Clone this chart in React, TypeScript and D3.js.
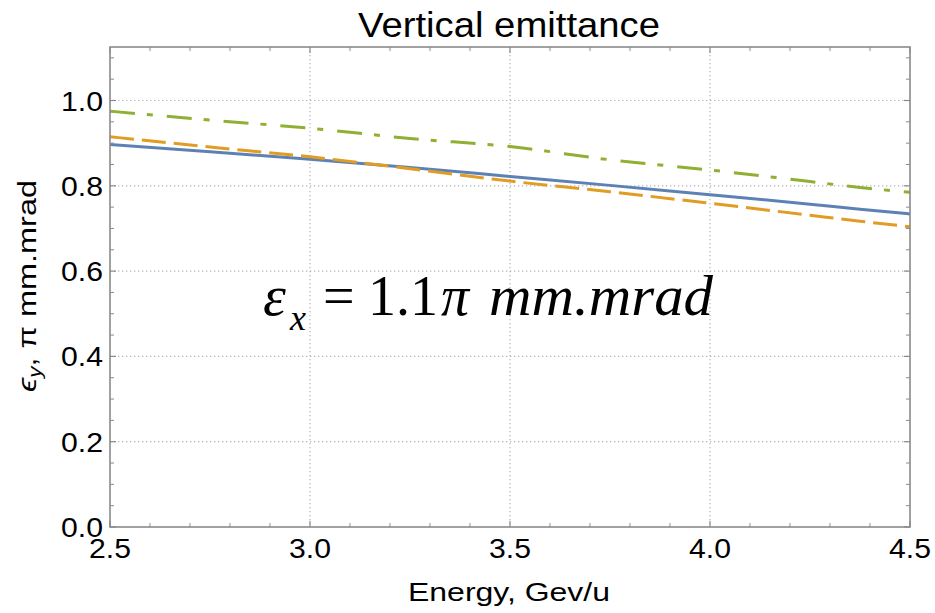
import React from "react";
import * as d3 from "d3";

const energy = [2.5, 2.75, 3.0, 3.25, 3.5, 3.75, 4.0, 4.25, 4.375, 4.5];
const blueSeries = [0.897, 0.880, 0.862, 0.843, 0.822, 0.801, 0.779, 0.757, 0.745, 0.734];
const orangeSeries = [0.915, 0.891, 0.868, 0.840, 0.811, 0.786, 0.759, 0.731, 0.717, 0.704];
const greenSeries = [0.975, 0.954, 0.935, 0.911, 0.892, 0.861, 0.837, 0.810, 0.796, 0.785];
const xTicks = [2.5, 3.0, 3.5, 4.0, 4.5];
const yTicks = [0.0, 0.2, 0.4, 0.6, 0.8, 1.0];

const W = 935;
const H = 613;
const left = 110, right = 910, top = 47, bottom = 527;

export default function App() {
  const x = d3.scaleLinear().domain([2.5, 4.5]).range([left, right]);
  const y = d3.scaleLinear().domain([0, 1.0]).range([bottom, bottom - 426.5]);
  const yMax = y.invert(top);

  const line = (vals: number[]) =>
    d3
      .line<number>()
      .x((_, i) => x(energy[i]))
      .y((v) => y(v))
      .curve(d3.curveMonotoneX)(vals) || "";

  const xMinor = d3.range(25, 46, 1).map((v) => v / 10).filter((v) => !xTicks.some((t) => Math.abs(t - v) < 1e-6));
  const yMinorAll = d3.range(0, 23, 1).map((v) => v * 0.05).filter((v) => v <= yMax);
  const yMinor = yMinorAll.filter((v) => !yTicks.some((t) => Math.abs(t - v) < 1e-6));

  const frame = "#8a8a8a";
  const grid = "#b4b4b4";
  const sans = "Arial, 'Liberation Sans', sans-serif";
  const serif = "'Times New Roman', 'Liberation Serif', serif";

  return (
    <svg
      width={W}
      height={H}
      style={{ position: "fixed", left: 0, top: 0, background: "#fff" }}
    >
      <rect x={0} y={0} width={W} height={H} fill="#fff" />
      {/* grid */}
      {xTicks.filter((t) => t > 2.5 && t < 4.5).map((t) => (
        <line key={"gx" + t} x1={x(t)} x2={x(t)} y1={top} y2={bottom} stroke={grid} strokeWidth={1.2} strokeDasharray="1.3,2.7" />
      ))}
      {yTicks.filter((t) => t > 0).map((t) => (
        <line key={"gy" + t} x1={left} x2={right} y1={y(t)} y2={y(t)} stroke={grid} strokeWidth={1.2} strokeDasharray="1.3,2.7" />
      ))}
      {/* series */}
      <path d={line(blueSeries)} fill="none" stroke="#5E81B5" strokeWidth={3} />
      <path d={line(orangeSeries)} fill="none" stroke="#E19C24" strokeWidth={3} strokeDasharray="24,8" />
      <path d={line(greenSeries)} fill="none" stroke="#8FB032" strokeWidth={3} strokeDasharray="25,12,6,14" />
      {/* frame */}
      <rect x={left} y={top} width={right - left} height={bottom - top} fill="none" stroke={frame} strokeWidth={1.6} />
      {/* ticks */}
      {xTicks.map((t) => (
        <g key={"xt" + t}>
          <line x1={x(t)} x2={x(t)} y1={bottom} y2={bottom - 6} stroke={frame} strokeWidth={1.2} />
          <line x1={x(t)} x2={x(t)} y1={top} y2={top + 6} stroke={frame} strokeWidth={1.2} />
        </g>
      ))}
      {xMinor.map((t) => (
        <g key={"xm" + t}>
          <line x1={x(t)} x2={x(t)} y1={bottom} y2={bottom - 4} stroke={frame} strokeWidth={1} />
          <line x1={x(t)} x2={x(t)} y1={top} y2={top + 4} stroke={frame} strokeWidth={1} />
        </g>
      ))}
      {yTicks.map((t) => (
        <g key={"yt" + t}>
          <line x1={left} x2={left + 6} y1={y(t)} y2={y(t)} stroke={frame} strokeWidth={1.2} />
          <line x1={right} x2={right - 6} y1={y(t)} y2={y(t)} stroke={frame} strokeWidth={1.2} />
        </g>
      ))}
      {yMinor.map((t) => (
        <g key={"ym" + t}>
          <line x1={left} x2={left + 4} y1={y(t)} y2={y(t)} stroke={frame} strokeWidth={1} />
          <line x1={right} x2={right - 4} y1={y(t)} y2={y(t)} stroke={frame} strokeWidth={1} />
        </g>
      ))}
      {/* tick labels */}
      {yTicks.map((t) => (
        <text key={"yl" + t} x={103} y={y(t) + 10} textAnchor="end" fontFamily={sans} fontSize={27} fill="#000" textLength={42} lengthAdjust="spacingAndGlyphs">
          {d3.format(".1f")(t)}
        </text>
      ))}
      {xTicks.map((t) => (
        <text key={"xl" + t} x={x(t)} y={558} textAnchor="middle" fontFamily={sans} fontSize={27} fill="#000" textLength={42} lengthAdjust="spacingAndGlyphs">
          {d3.format(".1f")(t)}
        </text>
      ))}
      {/* title */}
      <text x={509} y={37} textAnchor="middle" fontFamily={sans} fontSize={35} fill="#000" textLength={302} lengthAdjust="spacingAndGlyphs">
        Vertical emittance
      </text>
      {/* x label */}
      <text x={509} y={601} textAnchor="middle" fontFamily={sans} fontSize={26} fill="#000" textLength={202} lengthAdjust="spacingAndGlyphs">
        Energy, Gev/u
      </text>
      {/* y label */}
      <text transform="translate(36,286) rotate(-90)" textAnchor="middle" fontFamily={sans} fontSize={26} fill="#000" textLength={212} lengthAdjust="spacingAndGlyphs">
        <tspan fontStyle="italic">ϵ</tspan>
        <tspan fontSize={18} fontStyle="italic" dy={5}>y</tspan>
        <tspan dy={-5}>, π mm.mrad</tspan>
      </text>
      {/* annotation */}
      <g fontFamily={serif} fill="#000">
        <text x={263} y={315} fontSize={58} fontStyle="italic">ε</text>
        <text x={290} y={330} fontSize={36} fontStyle="italic">x</text>
        <text x={323} y={315} fontSize={56}>=</text>
        <text x={368} y={315} fontSize={56}>1.1</text>
        <text x={441} y={315} fontSize={56} fontStyle="italic">π</text>
        <text x={489} y={315} fontSize={57} fontStyle="italic" textLength={224} lengthAdjust="spacingAndGlyphs">mm.mrad</text>
      </g>
    </svg>
  );
}
